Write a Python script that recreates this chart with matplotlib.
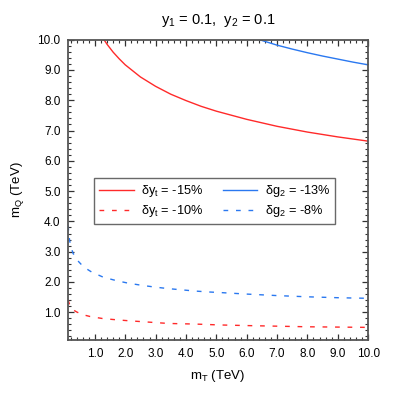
import matplotlib
matplotlib.use("Agg")
import matplotlib.pyplot as plt
from matplotlib.ticker import MultipleLocator, FixedLocator

plt.rcParams['font.family'] = ['Liberation Sans', 'DejaVu Sans']
plt.rcParams['mathtext.fontset'] = 'custom'
plt.rcParams['mathtext.rm'] = 'Liberation Sans'
plt.rcParams['mathtext.it'] = 'Liberation Sans'

# Data
yt15_mT = [1.3, 1.4, 1.6, 1.8, 2.0, 2.5, 3.0, 3.5, 4.0, 4.5, 5.0, 6.0, 7.0, 8.0, 9.0, 10.0]
yt15_mQ = [10.0, 9.85, 9.59, 9.37, 9.17, 8.77, 8.46, 8.20, 7.99, 7.80, 7.64, 7.37, 7.14, 6.95, 6.79, 6.65]

g13_mT = [6.42, 7.0, 7.5, 8.0, 8.5, 9.0, 9.5, 10.0]
g13_mQ = [10.0, 9.82, 9.69, 9.57, 9.46, 9.36, 9.26, 9.17]

yt10_mT = [0.12, 0.15, 0.2, 0.25, 0.3, 0.4, 0.6, 0.84, 1.27, 1.72, 2.1, 2.54, 2.98, 3.42, 4.3, 5.13, 6.0, 7.0, 8.0, 9.0, 10.0]
yt10_mQ = [1.41, 1.3, 1.19, 1.12, 1.07, 1.01, 0.92, 0.86, 0.79, 0.75, 0.72, 0.69, 0.66, 0.63, 0.61, 0.58, 0.56, 0.54, 0.52, 0.51, 0.50]

g8_mT = [0.12, 0.14, 0.17, 0.21, 0.28, 0.4, 0.56, 0.7, 0.89, 1.27, 1.72, 2.1, 2.54, 2.98, 3.42, 3.86, 4.3, 4.74, 5.13, 6.0, 7.0, 8.0, 9.0, 10.0]
g8_mQ = [3.86, 3.6, 3.36, 3.16, 2.95, 2.74, 2.57, 2.45, 2.33, 2.16, 2.04, 1.96, 1.89, 1.83, 1.78, 1.74, 1.70, 1.67, 1.65, 1.60, 1.55, 1.51, 1.48, 1.46]

labels = [r'$\delta$y$_\mathregular{t}$ = -15%', r'$\delta$y$_\mathregular{t}$ = -10%',
          r'$\delta$g$_\mathregular{2}$ = -13%', r'$\delta$g$_\mathregular{2}$ = -8%']
title = r'y$_\mathregular{1}$ = 0.1,  y$_\mathregular{2}$ = 0.1'
ticks = [1.0, 2.0, 3.0, 4.0, 5.0, 6.0, 7.0, 8.0, 9.0, 10.0]

red = '#ff2a2a'
blue = '#2a78f0'

fig = plt.figure(figsize=(3.95, 3.95), dpi=100)
ax = fig.add_axes([0.171, 0.1405, 0.761, 0.759])

dash = (0, (3.4, 5.6))
lw = 1.0
l1, = ax.plot(yt15_mT, yt15_mQ, color=red, lw=lw)
l2, = ax.plot(yt10_mT, yt10_mQ, color=red, lw=lw, linestyle=dash)
l3, = ax.plot(g13_mT, g13_mQ, color=blue, lw=lw)
l4, = ax.plot(g8_mT, g8_mQ, color=blue, lw=lw, linestyle=dash)

ax.set_xlim(0.1, 10.0)
ax.set_ylim(0.1, 10.0)
ax.xaxis.set_major_locator(FixedLocator(ticks))
ax.yaxis.set_major_locator(FixedLocator(ticks))
ax.xaxis.set_minor_locator(MultipleLocator(0.2))
ax.yaxis.set_minor_locator(MultipleLocator(0.2))
ax.set_xticklabels([f'{t:.1f}' for t in ticks])
ax.set_yticklabels([f'{t:.1f}' for t in ticks])
ax.tick_params(which='both', direction='in', top=True, right=True, labelsize=8.5, color='#333333')
ax.tick_params(which='major', length=4.5, width=0.9)
ax.tick_params(which='minor', length=2.5, width=0.8)
ax.tick_params(axis='x', pad=6)
ax.tick_params(axis='y', pad=5)
for s in ax.spines.values():
    s.set_color('#555555')
    s.set_linewidth(1.3)

ax.set_xlabel(r'm$_\mathregular{T}$ (TeV)', fontsize=9.5, labelpad=6)
ax.set_ylabel(r'm$_\mathregular{Q}$ (TeV)', fontsize=9.5, labelpad=8)
ax.set_title(title, fontsize=10.5, pad=11)

leg = ax.legend([l1, l2, l3, l4], labels, ncol=2, loc='upper left',
                bbox_to_anchor=(0.088, 0.538), fontsize=9.2, frameon=True,
                fancybox=False, edgecolor='#444444', handlelength=2.7,
                columnspacing=1.5, handletextpad=0.6, borderpad=0.4,
                labelspacing=0.3, borderaxespad=0)
leg.get_frame().set_linewidth(1.0)

fig.savefig('out.png', dpi=100)
